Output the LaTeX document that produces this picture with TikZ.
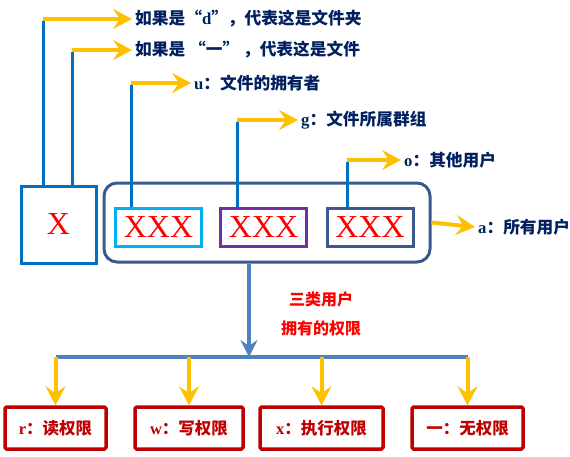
\documentclass[tikz,border=0pt]{standalone}
\usepackage{fontspec}
\setmainfont{Liberation Serif}
\newfontfamily\cjk{Noto Sans CJK SC}
\usetikzlibrary{arrows.meta}
\definecolor{ColBlue}{RGB}{0,112,192}
\definecolor{ColCyan}{RGB}{0,176,240}
\definecolor{ColPurple}{RGB}{112,48,160}
\definecolor{ColSlate}{RGB}{59,89,140}
\definecolor{ColSteel}{RGB}{79,129,189}
\definecolor{ColYellow}{RGB}{255,192,0}
\definecolor{ColNavy}{RGB}{0,32,96}
\definecolor{ColRed}{RGB}{192,0,0}
\newcommand{\Lat}[1]{{\rmfamily\bfseries #1}}
\tikzstyle{TypeBox}=[rectangle,draw=ColBlue,line width=3pt,minimum width=75pt,minimum height=77pt,
inner sep=0pt,text=red,font=\fontsize{32}{32}\selectfont]
\tikzstyle{BitBox}=[TypeBox,minimum width=86pt,minimum height=38pt]
\tikzstyle{GroupBox}=[rectangle,draw=ColSlate,line width=3pt,rounded corners=13pt,inner sep=0pt,
minimum width=326pt,minimum height=79pt]
\tikzstyle{LabelText}=[anchor=west,inner sep=3pt,text=ColNavy,font=\fontsize{16.7}{18}\selectfont\cjk\bfseries]
\tikzstyle{PermBox}=[rectangle,draw=ColRed,line width=3.5pt,rounded corners=1.5pt,minimum height=42pt,
inner sep=0pt,text=ColRed,font=\fontsize{16.5}{18}\selectfont\cjk\bfseries]
\tikzstyle{BlueLine}=[ColBlue,line width=3pt]
\tikzstyle{YellowArrow}=[ColYellow,line width=4pt,-{Stealth[length=19pt,width=20pt,inset=7pt]}]
\tikzstyle{SteelLine}=[ColSteel,line width=4pt]
\tikzstyle{SteelArrow}=[SteelLine,-{Stealth[length=17pt,width=17pt,inset=6pt]}]
\begin{document}
\begin{tikzpicture}[x=1pt,y=-1pt]
        \useasboundingbox (0,0) rectangle (570,456);
        % file type and the three permission groups
        \node[TypeBox](type)at(58.5,224.5){X};
        \node[GroupBox](group)at(267,222.5){};
        \node[BitBox,draw=ColCyan](user)at(158.5,227){XXX};
        \node[BitBox,draw=ColPurple](grp)at(263.5,227){XXX};
        \node[BitBox,draw=ColSlate](other)at(370,227){XXX};
        % labels
        \node[LabelText](dlabel)at(132,19){如果是“\Lat{d}”，代表这是文件夹};
        \node[LabelText](flabel)at(132,50){如果是 “一” ，代表这是文件};
        \node[LabelText](ulabel)at(191,83){\Lat{u}：文件的拥有者};
        \node[LabelText](glabel)at(298,120){\Lat{g}：文件所属群组};
        \node[LabelText](olabel)at(401,160){\Lat{o}：其他用户};
        \node[LabelText](alabel)at(475,227){\Lat{a}：所有用户};
        \coordinate(dcorner)at(43,19);
        \coordinate(fcorner)at(72,50);
        \coordinate(ucorner)at(131,83);
        \coordinate(gcorner)at(237,120);
        \coordinate(ocorner)at(347,160);
        \draw[BlueLine](dcorner|-type.north)--([yshift=-1.5pt]dcorner);
        \draw[BlueLine](fcorner|-type.north)--([yshift=-1.5pt]fcorner);
        \draw[BlueLine](ucorner|-user.north)--([yshift=-1.5pt]ucorner);
        \draw[BlueLine](gcorner|-grp.north)--([yshift=-1.5pt]gcorner);
        \draw[BlueLine](ocorner|-other.north)--([yshift=-1.5pt]ocorner);
        \draw[YellowArrow](dcorner)--(dlabel.west);
        \draw[YellowArrow](fcorner)--(flabel.west);
        \draw[YellowArrow](ucorner)--(ulabel.west);
        \draw[YellowArrow](gcorner)--(glabel.west);
        \draw[YellowArrow](ocorner)--(olabel.west);
        \draw[YellowArrow](group.east)--(alabel.west);
        % permissions
        \node[align=center,text=red,font=\fontsize{16}{29}\selectfont\cjk\bfseries](note)at(321,313.5){三类用户\\拥有的权限};
        \node[PermBox,minimum width=101pt](read)at(55.5,428){\Lat{r}：读权限};
        \node[PermBox,minimum width=108pt](write)at(189,428){\Lat{w}：写权限};
        \node[PermBox,minimum width=123pt](exec)at(321.5,428){\Lat{x}：执行权限};
        \node[PermBox,minimum width=111pt](none)at(467.5,428){一：无权限};
        \coordinate(split)at(249,357);
        \draw[SteelArrow](split|-group.south)--(split);
        \draw[SteelLine](read.north|-split)--(none.north|-split);
        \draw[YellowArrow](read.north|-split)--(read.north);
        \draw[YellowArrow](write.north|-split)--(write.north);
        \draw[YellowArrow](exec.north|-split)--(exec.north);
        \draw[YellowArrow](none.north|-split)--(none.north);
    \end{tikzpicture}
\end{document}
